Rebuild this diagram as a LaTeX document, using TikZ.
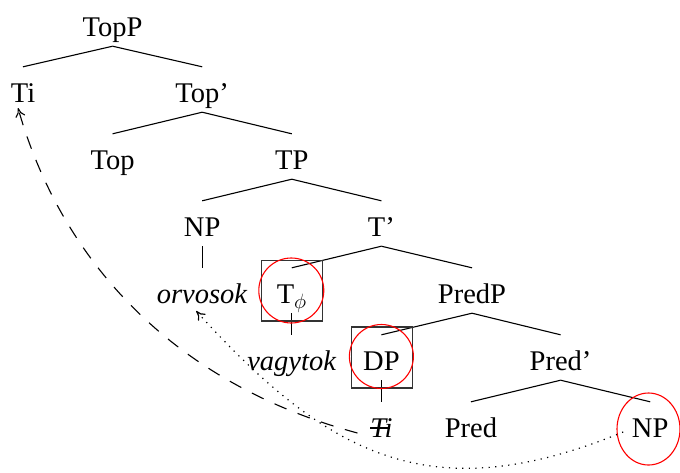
\documentclass[tikz,border=0pt]{standalone}
\usepackage{fontspec}
\setmainfont{Liberation Serif}
\usetikzlibrary{arrows.meta}
\begin{document}
\begin{tikzpicture}[x=1pt,y=-1pt,
  lab/.style={anchor=base, inner sep=0pt, text height=35pt, text depth=10pt, font=\fontsize{28.5}{34}\selectfont},
  edge/.style={line width=1.1pt},
  hl/.style={draw=black!80, line width=1.1pt},
  ring/.style={draw=red, line width=1.1pt},
  mvdash/.style={line width=1.1pt, dash pattern=on 13pt off 12pt, -{To[length=9pt,width=10pt]}},
  mvdot/.style={line width=1.2pt, dash pattern=on 1.2pt off 5.4pt, -{To[length=9pt,width=10pt]}}]
\useasboundingbox (0,0) rectangle (680,472);
\node[lab] (topp)  at (112.6,36)  {TopP};
\node[lab] (ti1)   at (23,102)    {Ti};
\node[lab] (topb)  at (202.2,102) {Top'};
\node[lab] (top)   at (112.6,169) {Top};
\node[lab] (tp)    at (291.8,169) {TP};
\node[lab] (np1)   at (202.2,236) {NP};
\node[lab] (tb)    at (381.4,236) {T'};
\node[lab] (orv)   at (202.2,303) {\textit{orvosok}};
\node[lab] (tphi)  at (291.8,303) {T$_\phi$};
\node[lab] (predp) at (472,303)   {PredP};
\node[lab] (vag)   at (291.8,370) {\textit{vagytok}};
\node[lab] (dp)    at (381.4,370) {DP};
\node[lab] (predb) at (560.6,370) {Pred'};
\node[lab] (ti2)   at (381.4,437) {\textit{Ti}};
\node[lab] (pred)  at (471,437)   {Pred};
\node[lab] (np2)   at (650.2,437) {NP};
\foreach \p/\c in {topp/ti1, topp/topb, topb/top, topb/tp, tp/np1, tp/tb, np1/orv,
  tb/tphi, tb/predp, tphi/vag, predp/dp, predp/predb, dp/ti2, predb/pred, predb/np2}
  \draw[edge] (\p.south) -- (\c.north);
% strike-through of the trace
\draw[edge] ([shift={(-11,-9)}]ti2.base) -- ([shift={(9,-9)}]ti2.base);
% boxes and circles
\draw[hl] ([shift={(-30,-42.5)}]tphi.base) rectangle ([shift={(31,18)}]tphi.base);
\draw[ring] ([shift={(-0.5,-12.5)}]tphi.base) circle[radius=32.5pt];
\draw[hl] ([shift={(-30,-43)}]dp.base) rectangle ([shift={(31,18)}]dp.base);
\draw[ring] ([shift={(0,-13.5)}]dp.base) circle[radius=32pt];
\draw[ring] ([shift={(-1.7,-8)}]np2.base) ellipse[x radius=31.5pt, y radius=36pt];
% movement arrows
\draw[mvdash] ([shift={(-24,-4)}]ti2.base) .. controls +(-193,-52) and +(41,144) .. ([shift={(-5,6)}]ti1.base);
\draw[mvdot] ([shift={(-27,-5)}]np2.base) .. controls +(-190,78) and +(134,148) .. ([shift={(-6,8)}]orv.base);
\end{tikzpicture}
\end{document}
